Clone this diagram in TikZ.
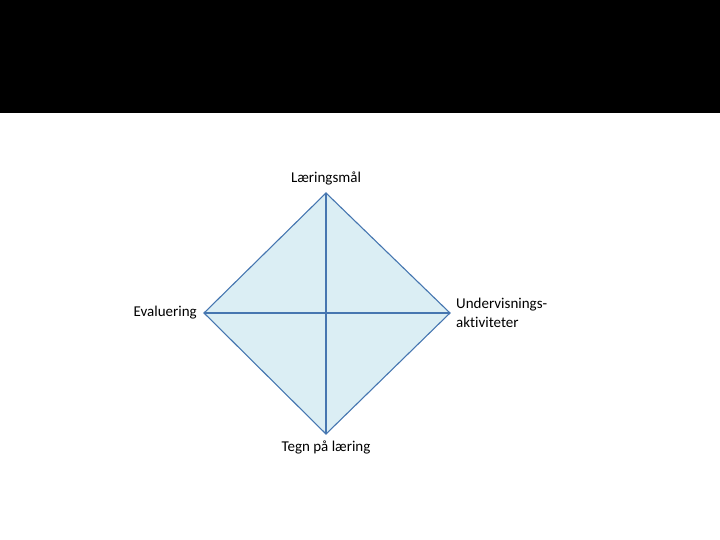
\documentclass[tikz,border=0pt]{standalone}
\usepackage{fontspec}
\setmainfont[Ligatures=NoCommon]{Carlito}
\usetikzlibrary{positioning}
\definecolor{dmfill}{RGB}{219,238,244}
\definecolor{dmline}{RGB}{70,118,176}

\begin{document}
\begin{tikzpicture}[x=1pt, y=-1pt,
  lbl/.style={font=\fontsize{15}{19.5}\selectfont, inner sep=1pt}]
\useasboundingbox (0,0) rectangle (720,540);
% dark title band
\fill[black] (0,0) rectangle (720,113);

% corners of the diamond
\coordinate (top) at (326,193);
\coordinate (rgt) at (450,313);
\coordinate (bot) at (326,434);
\coordinate (lft) at (204,313);

\filldraw[fill=dmfill, draw=dmline, line width=1.1pt]
  (top) -- (rgt) -- (bot) -- (lft) -- cycle;
\draw[dmline, line width=1.1pt] (top) -- (bot);
\draw[dmline, line width=1.1pt] (lft) -- (rgt);

% labels
\node[lbl, above=7pt of top] (maal) {Læringsmål};
\node[lbl, left=6pt of lft] (eval) {Evaluering};
\node[lbl, right=5pt of rgt, align=left] (akt) {Undervisnings-\\aktiviteter};
\node[lbl, below=6pt of bot] (tegn) {Tegn på læring};
\end{tikzpicture}
\end{document}
